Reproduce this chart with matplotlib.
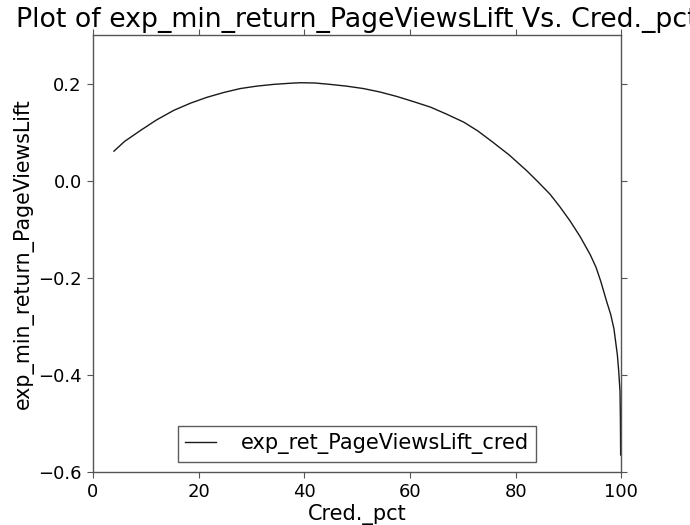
import matplotlib
matplotlib.use('Agg')
import matplotlib.pyplot as plt

# credibility percentage vs. expected minimum return on page view lift
cred_pct = [4, 6, 9, 12, 15.3, 18.5, 21.6, 24.8, 27.9, 31, 34.2, 37.4, 39.2,
            42, 44.9, 48, 51.2, 54.3, 57.5, 60.7, 63.9, 67, 70.2, 72.8, 75.5,
            78.8, 82.1, 84.3, 86.5, 88.4, 90.3, 92.2, 94.1, 95.2, 96.1, 97.2,
            98.0, 98.6, 99.25, 99.5, 99.75, 99.82, 99.87]
exp_min_return = [0.061, 0.081, 0.1035, 0.125, 0.145, 0.160, 0.172, 0.182,
                  0.190, 0.195, 0.1986, 0.201, 0.202, 0.2015, 0.1986, 0.195,
                  0.190, 0.183, 0.1738, 0.163, 0.1517, 0.137, 0.1207, 0.103,
                  0.081, 0.053, 0.0207, -0.003, -0.0276, -0.054, -0.0828,
                  -0.115, -0.152, -0.178, -0.207, -0.248, -0.276, -0.305,
                  -0.359, -0.392, -0.434, -0.49, -0.565]

series_label = 'exp_ret_PageViewsLift_cred'
title = 'Plot of exp_min_return_PageViewsLift Vs. Cred._pct'
xlabel = 'Cred._pct'
ylabel = 'exp_min_return_PageViewsLift'

fig = plt.figure(figsize=(6.9, 5.25), dpi=100)
ax = fig.add_axes([0.1345, 0.101, 0.766, 0.832])

ax.plot(cred_pct, exp_min_return, color='#1a1a1a', lw=1, label=series_label)

ax.set_xlim(0, 100)
ax.set_ylim(-0.6, 0.3)
ax.set_xticks([0, 20, 40, 60, 80, 100])
ax.set_yticks([-0.6, -0.4, -0.2, 0.0, 0.2])
ax.tick_params(direction='out', length=4, width=0.8, color='#555555',
               labelsize=13, top=True, right=True, pad=4)
for sp in ax.spines.values():
    sp.set_color('#555555')
    sp.set_linewidth(1)

# the long title runs past the figure edge
ax.set_title(title, fontsize=19.3, pad=6)
ax.set_xlabel(xlabel, fontsize=15, labelpad=2)
ax.set_ylabel(ylabel, fontsize=14.8, labelpad=3)

leg = ax.legend(loc='lower center', fontsize=15, fancybox=False,
                handlelength=1.45, handletextpad=1.2, borderpad=0.35,
                borderaxespad=0.5)
leg.get_frame().set_edgecolor('#333333')
leg.get_frame().set_linewidth(1)

fig.savefig('out.png', dpi=100)
